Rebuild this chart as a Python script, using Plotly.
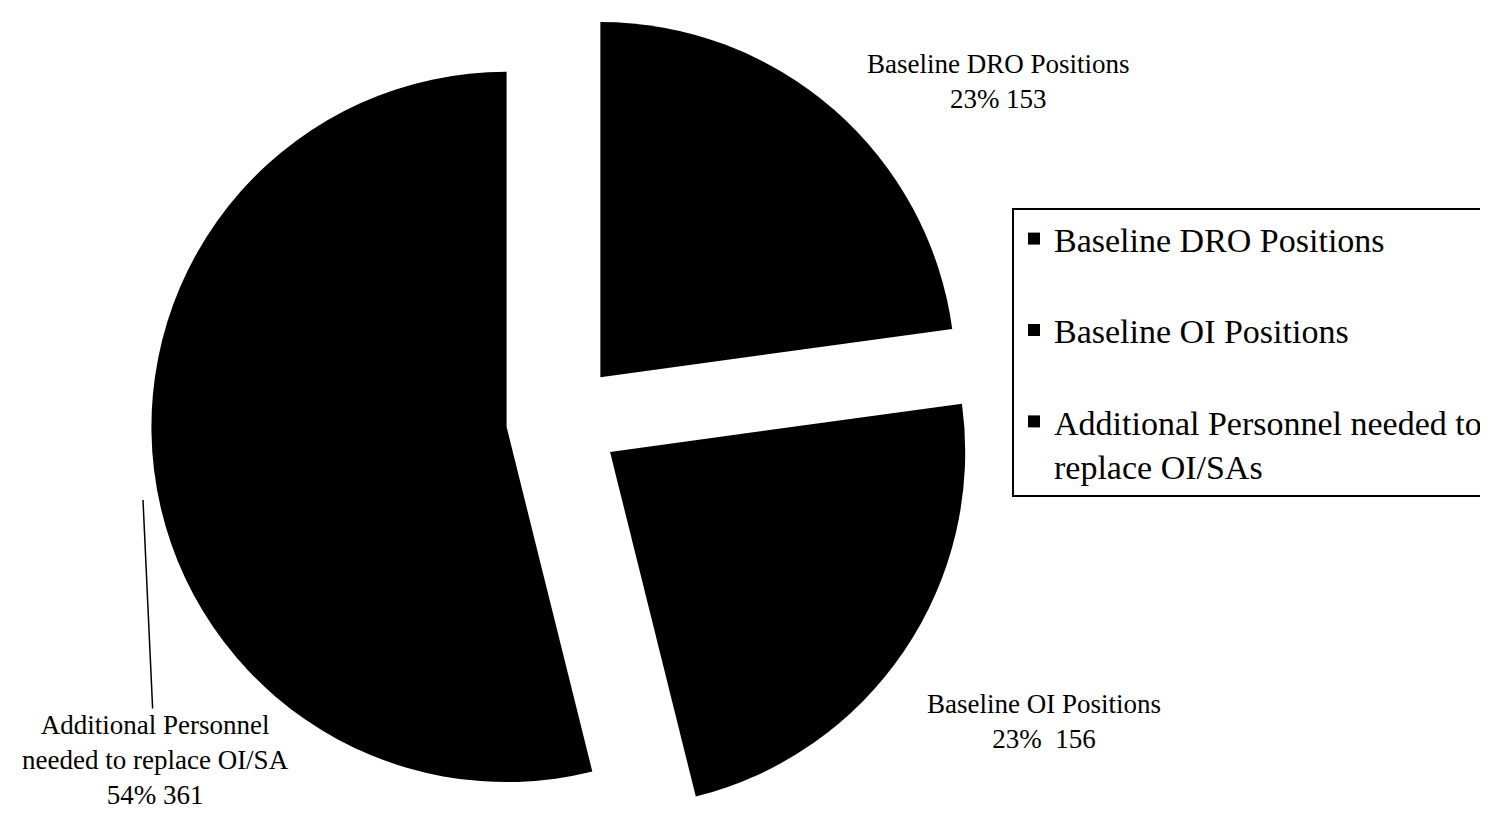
import plotly.graph_objects as go

labels = ["Baseline DRO Positions", "Baseline OI Positions",
          "Additional Personnel needed to replace OI/SAs"]
legend_labels = ["Baseline DRO Positions<br> ", "Baseline OI Positions<br> ",
                 "Additional Personnel needed to<br>replace OI/SAs"]
values = [153, 156, 361]
percents = ["23%", "23%", "54%"]
slice_labels = ["Baseline DRO Positions<br>23% 153",
                "Baseline OI Positions<br>23%  156",
                "Additional Personnel<br>needed to replace OI/SA<br>54% 361"]

FONT = "Liberation Serif, Times New Roman, serif"
W, H = 1488, 824
OFF = 8  # page body margin

fig = go.Figure()
fig.add_trace(go.Pie(
    labels=legend_labels,
    values=values,
    sort=False,
    direction="clockwise",
    rotation=0,
    pull=[0.16, 0.16, 0.16],
    marker=dict(colors=["#000000"] * 3, line=dict(width=0)),
    textinfo="none",
    hovertext=labels,
    hoverinfo="text+value+percent",
    domain=dict(x=[0, 2 * (563 - OFF) / W], y=[0, 1]),
))

def px(x):
    return (x - OFF) / W

def py(y):
    return 1 - (y - OFF) / H

lab_font = dict(family=FONT, size=27, color="black")
fig.add_annotation(x=px(998), y=py(82), text=slice_labels[0], showarrow=False,
                   xanchor="center", yanchor="middle",
                   xref="paper", yref="paper", font=lab_font)
fig.add_annotation(x=px(1044), y=py(721), text=slice_labels[1], showarrow=False,
                   xanchor="center", yanchor="middle",
                   xref="paper", yref="paper", font=lab_font)
fig.add_annotation(x=px(143), y=py(500), text=slice_labels[2], showarrow=True,
                   xanchor="center", yanchor="middle",
                   arrowhead=0, arrowwidth=1.5, arrowcolor="black", ax=12, ay=260,
                   xref="paper", yref="paper", font=lab_font)

fig.update_layout(
    width=W, height=H,
    margin=dict(l=0, r=0, t=0, b=0, autoexpand=False),
    paper_bgcolor="white", plot_bgcolor="white",
    font=dict(family=FONT, color="black"),
    showlegend=True,
    legend=dict(
        xref="container", yref="container",
        x=px(1012), y=py(208), xanchor="left", yanchor="top",
        bordercolor="black", borderwidth=2, bgcolor="white",
        font=dict(family=FONT, size=34, color="black"),
        valign="top",
    ),
)

fig.write_html("out.html")
